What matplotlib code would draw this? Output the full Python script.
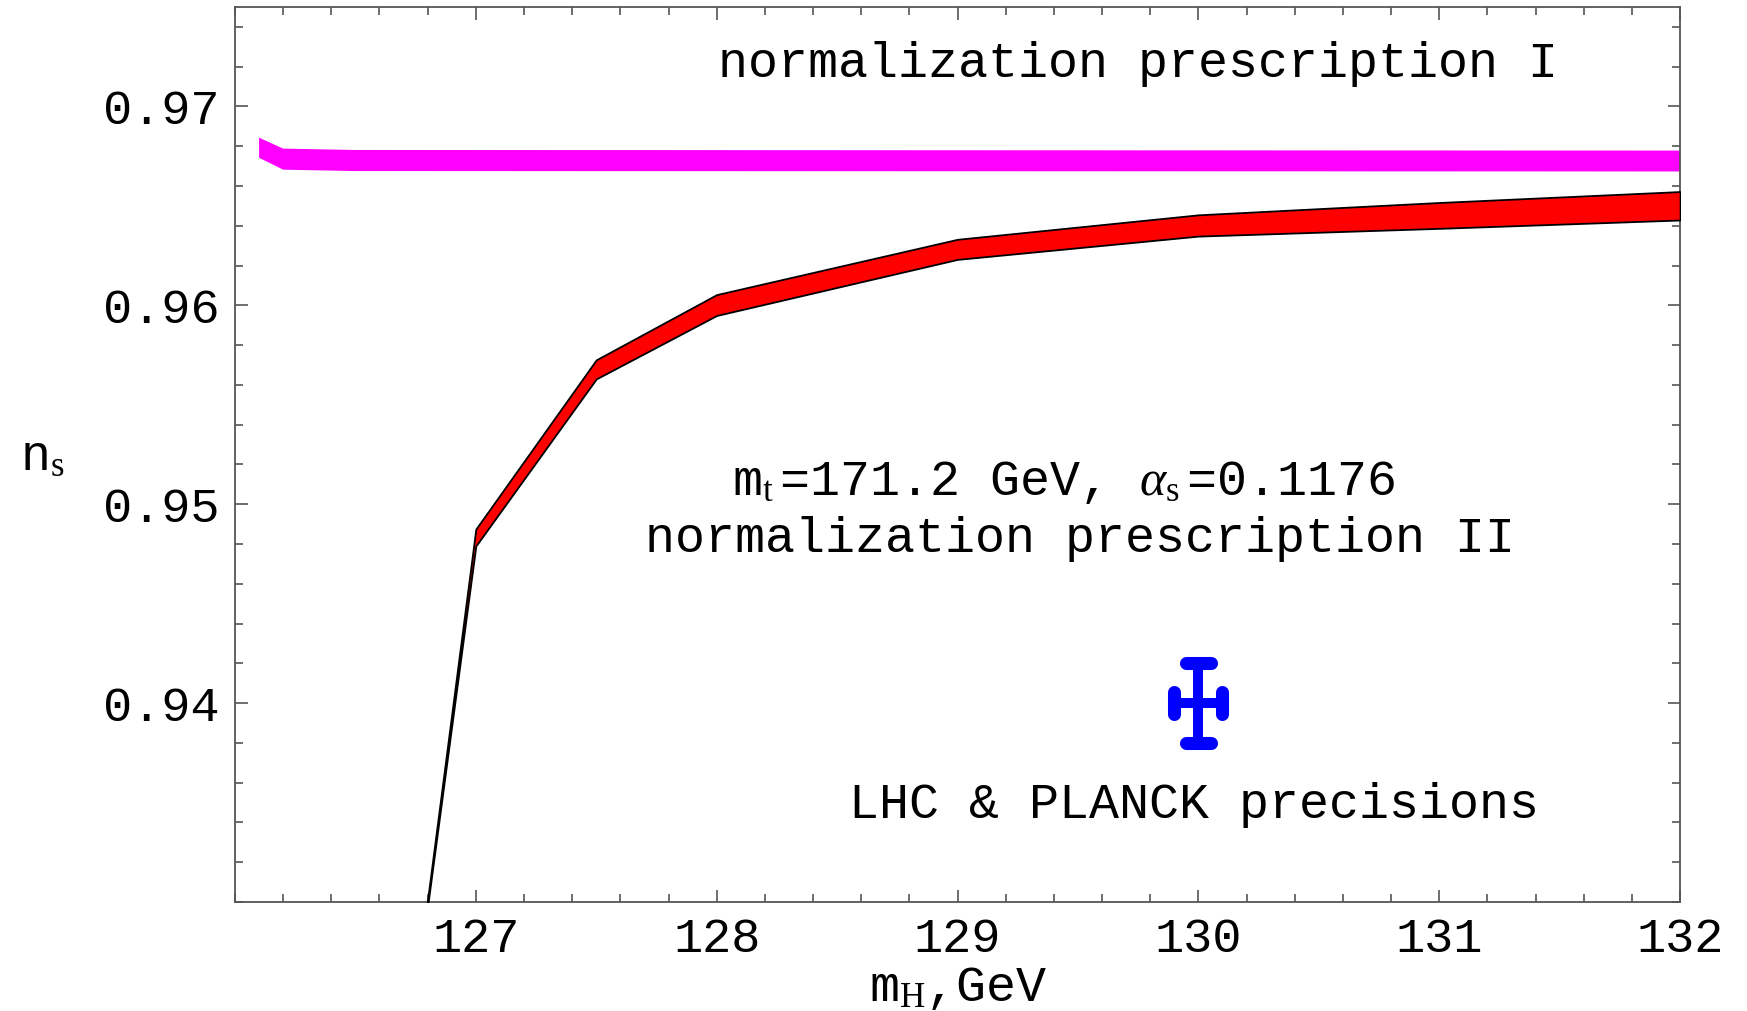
import matplotlib
matplotlib.use("Agg")
import matplotlib.pyplot as plt
from matplotlib.markers import MarkerStyle
from matplotlib.ticker import MultipleLocator

plt.rcParams["font.family"] = ["Liberation Mono", "DejaVu Sans Mono"]
plt.rcParams["mathtext.fontset"] = "custom"
plt.rcParams["mathtext.rm"] = "Liberation Serif"
plt.rcParams["mathtext.it"] = "Liberation Serif:italic"

# --- data ---
# magenta band: normalization prescription I
mh_mag = [126.1, 126.2, 126.5, 132.0]
ns_mag_hi = [0.96843, 0.96788, 0.96781, 0.96778]
ns_mag_lo = [0.96742, 0.96682, 0.96675, 0.96673]

# red band: normalization prescription II
mh_red = [126.75, 127.0, 127.5, 128.0, 129.0, 130.0, 131.0, 132.0]
ns_red_hi = [0.9255, 0.94875, 0.95726, 0.96054, 0.96332, 0.96455, 0.96517, 0.96572]
ns_red_lo = [0.9253, 0.94790, 0.95630, 0.95949, 0.96231, 0.96348, 0.96387, 0.96429]

# expected precision (LHC & PLANCK)
prec_mh, prec_ns = 130.0, 0.94
prec_dmh, prec_dns = 0.1, 0.002

xticks = [127, 128, 129, 130, 131, 132]
yticks = [0.94, 0.95, 0.96, 0.97]

fig = plt.figure(figsize=(17.47, 10.11), dpi=100)
ax = fig.add_axes([0.1345, 0.1078, 0.8272, 0.8853])

ax.fill_between(mh_mag, ns_mag_lo, ns_mag_hi, facecolor="#ff00ff", edgecolor="none", zorder=2)
ax.fill_between(mh_red, ns_red_lo, ns_red_hi, facecolor="#ff0000", edgecolor="black",
                linewidth=1.3, zorder=3)

# error cross with rounded caps
ax.plot([prec_mh, prec_mh], [prec_ns - prec_dns, prec_ns + prec_dns], color="#0000ff",
        lw=7.2, solid_capstyle="butt", zorder=4)
ax.plot([prec_mh - prec_dmh, prec_mh + prec_dmh], [prec_ns, prec_ns], color="#0000ff",
        lw=7.2, solid_capstyle="butt", zorder=4)
ax.plot([prec_mh, prec_mh], [prec_ns - prec_dns, prec_ns + prec_dns], ls="none",
        marker=MarkerStyle("_", capstyle="round"), ms=18, mew=9.4, color="#0000ff", zorder=5)
ax.plot([prec_mh - prec_dmh, prec_mh + prec_dmh], [prec_ns, prec_ns], ls="none",
        marker=MarkerStyle("|", capstyle="round"), ms=16, mew=9.4, color="#0000ff", zorder=5)

ax.set_xlim(126, 132)
ax.set_ylim(0.93, 0.975)
ax.set_xticks(xticks)
ax.set_yticks(yticks)
ax.set_xticklabels([str(t) for t in xticks])
ax.set_yticklabels(["%.2f" % t for t in yticks])
ax.xaxis.set_minor_locator(MultipleLocator(0.2))
ax.yaxis.set_minor_locator(MultipleLocator(0.002))
ax.tick_params(which="both", direction="in", top=True, right=True, color="#555555", width=1.2)
ax.tick_params(which="major", length=9, labelsize=35, pad=11)
ax.tick_params(which="minor", length=6)
for s in ax.spines.values():
    s.set_color("#555555")
    s.set_linewidth(1.3)

fs = 36
ax.text(129.75, 0.97215, "normalization prescription I", fontsize=fs, ha="center", va="center")
ax.text(129.44, 0.95110, r"m$_{\rm t}\,$=171.2 GeV, $\alpha_{\rm s}\,$=0.1176", fontsize=fs,
        ha="center", va="center")
ax.text(129.51, 0.94823, "normalization prescription II", fontsize=fs, ha="center", va="center")
ax.text(129.98, 0.93490, "LHC & PLANCK precisions", fontsize=fs, ha="center", va="center")

fig.text(958 / 1747, 1 - 988 / 1011, r"m$_{\rm H}$,GeV", fontsize=fs, ha="center", va="center")
fig.text(42 / 1747, 1 - 457 / 1011, r"n$_{\rm s}$", fontsize=fs, ha="center", va="center")

fig.savefig("out.png", dpi=100)
